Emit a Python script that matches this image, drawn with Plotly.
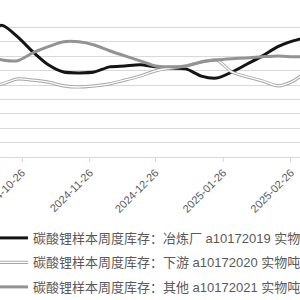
import plotly.graph_objects as go

dates = ["2024-10-10", "2024-10-17", "2024-10-24", "2024-10-31", "2024-11-07", "2024-11-14",
         "2024-11-21", "2024-11-28", "2024-12-05", "2024-12-12", "2024-12-19", "2024-12-26",
         "2025-01-02", "2025-01-09", "2025-01-16", "2025-01-23", "2025-01-30", "2025-02-06",
         "2025-02-13", "2025-02-20", "2025-02-27", "2025-03-06"]

smelter = [44200, 45700, 41700, 36500, 32000, 29500, 29200, 29500, 31300, 31600, 32000,
           31300, 30900, 30600, 28100, 27400, 29500, 32300, 35100, 38300, 40300, 41700]
downstream = [24700, 25400, 27100, 26700, 26000, 24700, 24300, 24700, 25400, 26700, 28100,
              29900, 30900, 31600, 33000, 33700, 29500, 27800, 26400, 24700, 26400, 30200]
other = [35100, 33700, 33400, 36200, 38300, 40000, 40000, 38900, 36900, 35100, 33400,
         31600, 31300, 31600, 33000, 33700, 34100, 34400, 34800, 35100, 34800, 34800]

names = ["碳酸锂样本周度库存：冶炼厂 a10172019 实物吨 周",
         "碳酸锂样本周度库存：下游 a10172020 实物吨 周",
         "碳酸锂样本周度库存：其他 a10172021 实物吨 周"]

tick_vals = ["2024-10-26", "2024-11-26", "2024-12-26", "2025-01-26", "2025-02-26"]
tick_text = ["2024-10-26", "2024-11-26", "2024-12-26", "2025-01-26", "2025-02-26"]

shape = dict(shape="spline", smoothing=0.7)

fig = go.Figure()
fig.add_trace(go.Scatter(x=dates, y=smelter, mode="lines", name=names[0], legendgroup="a",
                         line=dict(color="#141414", width=3, **shape)))
fig.add_trace(go.Scatter(x=dates, y=downstream, mode="lines", name=names[1], legendgroup="b",
                         line=dict(color="#a6a6a6", width=3.2, **shape)))
fig.add_trace(go.Scatter(x=dates, y=downstream, mode="lines", name="", legend="legend2",
                         line=dict(color="#ffffff", width=1.3, **shape)))
fig.add_trace(go.Scatter(x=dates, y=other, mode="lines", name=names[2], legendgroup="c",
                         line=dict(color="#939393", width=3, **shape)))

legend_font = dict(family="Liberation Sans, Noto Sans CJK SC", size=13, color="#595959")

leg_x = -7 / 300
leg_y = -0.458

fig.update_layout(
    width=300, height=300,
    margin=dict(l=0, r=0, t=13, b=143, autoexpand=False),
    paper_bgcolor="white", plot_bgcolor="white",
    showlegend=True,
    xaxis=dict(range=["2024-10-15 22:00", "2025-03-02 03:00"], tickmode="array",
               tickvals=tick_vals, ticktext=tick_text, tickangle=-45,
               ticklabeloverflow="allow",
               showline=True, linecolor="#d9d9d9", linewidth=1,
               ticks="outside", ticklen=4, tickcolor="#d9d9d9",
               showgrid=False, zeroline=False,
               tickfont=dict(family="Liberation Sans", size=11, color="#595959")),
    yaxis=dict(range=[0, 50000], dtick=5000, showgrid=True, gridcolor="#d9d9d9",
               gridwidth=1, showticklabels=False, zeroline=False, showline=False),
    legend=dict(x=leg_x, y=leg_y, xanchor="left", yanchor="top", bgcolor="rgba(0,0,0,0)",
                traceorder="grouped", tracegroupgap=4.6, font=legend_font),
    legend2=dict(x=leg_x, y=leg_y - 24.5 / 144, xanchor="left", yanchor="top",
                 bgcolor="rgba(0,0,0,0)", font=legend_font),
)

fig.write_html("out.html")
